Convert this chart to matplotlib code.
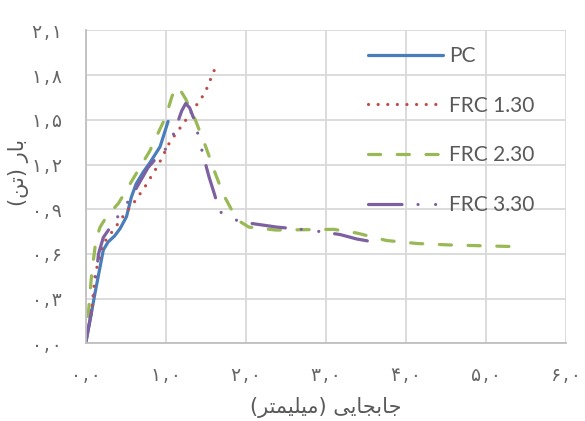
import matplotlib
matplotlib.use("Agg")
import matplotlib.pyplot as plt
import numpy as np

# ---------------- data ----------------
pc_x = [0.0, 0.06, 0.116, 0.18, 0.22, 0.28, 0.36, 0.43, 0.51, 0.57, 0.63, 0.72, 0.80, 0.93, 1.03]
pc_y = [0.0, 0.17, 0.336, 0.514, 0.626, 0.68, 0.72, 0.77, 0.85, 0.98, 1.07, 1.15, 1.21, 1.32, 1.49]

frc130_x = [0.0, 0.07, 0.12, 0.22, 0.36, 0.49, 0.61, 0.74, 0.91, 1.05, 1.24, 1.36, 1.49, 1.62]
frc130_y = [0.0, 0.20, 0.47, 0.67, 0.77, 0.87, 0.95, 1.05, 1.20, 1.35, 1.49, 1.58, 1.68, 1.85]

frc230_x = [0.03, 0.075, 0.13, 0.18, 0.26, 0.41, 0.61, 0.80, 1.00, 1.08, 1.13, 1.17, 1.25, 1.37,
            1.50, 1.62, 1.72, 1.79, 1.86, 1.92, 2.04, 2.38, 3.10, 3.39, 3.76, 4.14, 4.55, 5.30]
frc230_y = [0.18, 0.47, 0.70, 0.78, 0.85, 0.94, 1.12, 1.29, 1.52, 1.66, 1.72, 1.71, 1.64, 1.50,
            1.32, 1.14, 1.00, 0.93, 0.86, 0.82, 0.78, 0.76, 0.765, 0.74, 0.69, 0.67, 0.66, 0.65]

frc330_x = [0.0, 0.10, 0.16, 0.22, 0.36, 0.47, 0.61, 0.78, 0.91, 1.05, 1.12, 1.20, 1.25, 1.30,
            1.35, 1.40, 1.46, 1.54, 1.61, 1.67, 1.75, 1.86, 2.00, 2.39, 2.80, 3.18, 3.39, 3.60]
frc330_y = [0.0, 0.30, 0.60, 0.71, 0.82, 0.90, 1.02, 1.18, 1.26, 1.33, 1.44, 1.56, 1.61, 1.58,
            1.51, 1.41, 1.28, 1.12, 1.00, 0.89, 0.85, 0.83, 0.81, 0.78, 0.76, 0.73, 0.70, 0.68]

series_names = ["PC", "FRC 1.30", "FRC 2.30", "FRC 3.30"]

x_ticks = [0, 1, 2, 3, 4, 5, 6]
x_tick_labels = ["\u06f0\u200a,\u200a\u06f0", "\u06f1\u200a,\u200a\u06f0", "\u06f2\u200a,\u200a\u06f0",
                 "\u06f3\u200a,\u200a\u06f0", "\u06f4\u200a,\u200a\u06f0", "\u06f5\u200a,\u200a\u06f0",
                 "\u06f6\u200a,\u200a\u06f0"]
y_ticks = [0.0, 0.3, 0.6, 0.9, 1.2, 1.5, 1.8, 2.1]
y_tick_labels = ["\u06f0\u200a,\u200a\u06f0", "\u06f0\u200a,\u200a\u06f3", "\u06f0\u200a,\u200a\u06f6",
                 "\u06f0\u200a,\u200a\u06f9", "\u06f1\u200a,\u200a\u06f2", "\u06f1\u200a,\u200a\u06f5",
                 "\u06f1\u200a,\u200a\u06f8", "\u06f2\u200a,\u200a\u06f1"]

# Persian labels, pre-shaped (presentation forms) in visual order
# x: "جابجایی (میلیمتر)"   y: "بار (تن)"
x_label = ("(" + "\uFEAE\uFE98\uFEE4\uFEF4\uFEE0\uFEF4\uFEE3" + ") "
           + "\uFEF0\uFEF3\uFE8E\uFEA0\uFE91\uFE8E\uFE9F")
y_label = "(" + "\uFEE6\uFE97" + ") " + "\uFEAD\uFE8E\uFE91"

# ---------------- plot ----------------
fig = plt.figure(figsize=(5.85, 4.21), dpi=100)
ax = fig.add_axes([0.1465, 0.1846, 0.8205, 0.743])

lw = 2.3
ax.plot(pc_x, pc_y, color="#4A7EBB", lw=lw, solid_capstyle="round",
        solid_joinstyle="round", label=series_names[0])
ax.plot(frc130_x, frc130_y, color="#BE4B48", lw=lw, linestyle=(0, (0.01, 3.0)),
        dash_capstyle="round", label=series_names[1])
ax.plot(frc230_x, frc230_y, color="#98B954", lw=lw, linestyle=(0, (3.8, 5.2)),
        dash_capstyle="round", dash_joinstyle="round", label=series_names[2])
ax.plot(frc330_x, frc330_y, color="#7D60A0", lw=lw,
        linestyle=(0, (10.5, 5.0, 0.01, 5.5, 0.01, 5.0)),
        dash_capstyle="round", dash_joinstyle="round", label=series_names[3])

ax.set_xlim(0, 6)
ax.set_ylim(0, 2.1)
ax.set_xticks(x_ticks)
ax.set_xticklabels(x_tick_labels)
ax.set_yticks(y_ticks)
ax.set_yticklabels(y_tick_labels)

ax.grid(True, color="#D9D9D9", lw=1.3)
ax.set_axisbelow(True)
for s in ["top", "right"]:
    ax.spines[s].set_visible(False)
for s in ["left", "bottom"]:
    ax.spines[s].set_color("#BFBFBF")
    ax.spines[s].set_linewidth(1.3)
ax.tick_params(length=0, colors="#595959")
ax.tick_params(axis="x", pad=16, labelsize=13.5)
ax.tick_params(axis="y", pad=17, labelsize=13.5)
for t in ax.get_xticklabels() + ax.get_yticklabels():
    t.set_family("DejaVu Sans")
    t.set_color("#666666")

ax.set_xlabel(x_label, fontsize=15, color="#595959", family="DejaVu Sans")
ax.xaxis.set_label_coords(0.5, -0.205)
ax.set_ylabel(y_label, fontsize=15, color="#595959", family="DejaVu Sans")
ax.yaxis.set_label_coords(-0.141, 0.545)
ax.yaxis.label.set_va("center")
ax.xaxis.label.set_va("center")

leg = ax.legend(loc="upper left", bbox_to_anchor=(0.55, 1.01), frameon=False,
                handlelength=3.6, handletextpad=0.25, labelspacing=1.42,
                prop={"family": "Lato", "size": 15})
for t in leg.get_texts():
    t.set_color("#595959")

fig.savefig("out.png", dpi=100)
